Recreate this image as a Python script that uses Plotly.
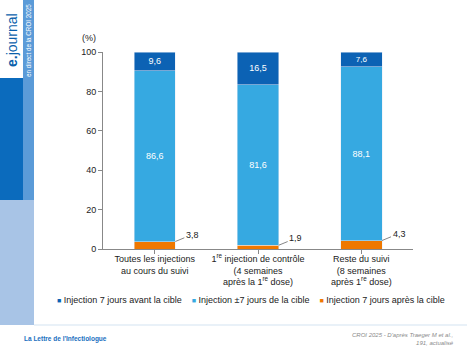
import plotly.graph_objects as go

categories = [
    "Toutes les injections<br>au cours du suivi",
    "1<sup>re</sup> injection de contrôle<br>(4 semaines<br>après la 1<sup>re</sup> dose)",
    "Reste du suivi<br>(8 semaines<br>après 1<sup>re</sup> dose)",
]
series_names = [
    "Injection 7 jours avant la cible",
    "Injection ±7 jours de la cible",
    "Injection 7 jours après la cible",
]
avant = [9.6, 16.5, 7.6]
pendant = [86.6, 81.6, 88.1]
apres = [3.8, 1.9, 4.3]

C_DARK = "#0c62b4"
C_LIGHT = "#36a9e1"
C_ORANGE = "#ef7800"
FONT = "Liberation Sans, Arial, sans-serif"

W, H = 467, 350


def px(x):
    return x / W


def py(y):
    return 1 - y / H


def fmt(v):
    return f"{v:.1f}".replace(".", ",")


BAR_W = 0.4
idx = list(range(len(categories)))

fig = go.Figure()
fig.add_trace(go.Bar(x=idx, y=apres, marker_color=C_ORANGE, width=BAR_W,
                     name=series_names[2], hoverinfo="skip"))
fig.add_trace(go.Bar(x=idx, y=pendant, marker_color=C_LIGHT, width=BAR_W,
                     name=series_names[1],
                     text=[fmt(v) for v in pendant], textposition="inside",
                     insidetextanchor="middle",
                     textfont=dict(color="white", size=9, family=FONT),
                     hoverinfo="skip"))
fig.add_trace(go.Bar(x=idx, y=avant, marker_color=C_DARK, width=BAR_W,
                     name=series_names[0],
                     text=[fmt(v) for v in avant], textposition="inside",
                     insidetextanchor="middle",
                     textfont=dict(color="white", size=9, family=FONT),
                     hoverinfo="skip"))

annotations = []
# outside labels for the orange segments with leader lines
for i, v in zip(idx, apres):
    annotations.append(dict(
        x=i + BAR_W / 2, y=v, xref="x", yref="y",
        text=fmt(v), showarrow=True, arrowhead=0, arrowwidth=0.8,
        arrowcolor="#666666", ax=17, ay=-7, standoff=0,
        font=dict(size=9, color="#222222", family=FONT)))

# (%) label
annotations.append(dict(x=px(98), y=py(38), xref="paper", yref="paper",
                        text="(%)", showarrow=False, xanchor="right", yanchor="middle",
                        font=dict(size=9, color="#222222", family=FONT)))

# legend (drawn as text with coloured square glyphs)
sq = '<span style="color:{c};font-size:7px">■</span> {n}'
legend_text = "    ".join(sq.format(c=c, n=n) for c, n in
                          zip([C_DARK, C_LIGHT, C_ORANGE], series_names))
annotations.append(dict(x=px(251), y=py(300), xref="paper", yref="paper",
                        text=legend_text, showarrow=False, xanchor="center",
                        yanchor="middle",
                        font=dict(size=9, color="#222222", family=FONT)))

# sidebar texts
annotations.append(dict(x=px(12), y=py(40), xref="paper", yref="paper",
                        text="<b>e.</b>journal", showarrow=False, textangle=-90,
                        xanchor="center", yanchor="middle",
                        font=dict(size=14, color="#0a5fab", family=FONT)))
annotations.append(dict(x=px(29), y=py(41), xref="paper", yref="paper",
                        text="en direct de la CROI 2025", showarrow=False,
                        textangle=-90, xanchor="center", yanchor="middle",
                        font=dict(size=6.3, color="white", family=FONT)))
# footer
annotations.append(dict(x=px(22), y=py(339), xref="paper", yref="paper",
                        text="<b>La Lettre de l'Infectiologue</b>", showarrow=False,
                        xanchor="left", yanchor="middle",
                        font=dict(size=6.5, color="#1a6fc0", family=FONT)))
annotations.append(dict(x=px(456), y=py(339), xref="paper", yref="paper",
                        text="<i>CROI 2025 - D'après Traeger M et al.,<br>191, actualisé</i>",
                        showarrow=False, xanchor="right", yanchor="middle", align="right",
                        font=dict(size=6, color="#8a8a8a", family=FONT)))

shapes = [
    dict(type="rect", xref="paper", yref="paper", x0=px(23), x1=px(34),
         y0=py(0), y1=py(200), fillcolor="#5b9bd8", line_width=0, layer="below"),
    dict(type="rect", xref="paper", yref="paper", x0=px(0), x1=px(23),
         y0=py(78), y1=py(200), fillcolor="#0b6bbd", line_width=0, layer="below"),
    dict(type="rect", xref="paper", yref="paper", x0=px(0), x1=px(34),
         y0=py(200), y1=py(325), fillcolor="#a8c4e6", line_width=0, layer="below"),
    dict(type="line", xref="paper", yref="paper", x0=px(34), x1=px(467),
         y0=py(325), y1=py(325), line=dict(color="#d3e4f2", width=1.2)),
]

fig.update_layout(
    width=W, height=H,
    margin=dict(l=0, r=0, t=0, b=0, autoexpand=False),
    barmode="stack", bargap=0.6,
    plot_bgcolor="white", paper_bgcolor="white",
    font=dict(family=FONT, size=9, color="#222222"),
    showlegend=False,
    xaxis=dict(domain=[px(103), px(413)], tickmode="array", tickvals=idx,
               ticktext=categories, range=[-0.5, 2.5], showline=True,
               linecolor="#888888", linewidth=1, ticks="outside",
               tickson="boundaries", ticklen=4, tickcolor="#888888",
               ticklabelstandoff=-3,
               showgrid=False, zeroline=False,
               tickfont=dict(size=9, family=FONT, color="#222222")),
    yaxis=dict(domain=[py(249), py(52)], range=[0, 100], dtick=20,
               showline=True, linecolor="#888888", linewidth=1,
               ticks="outside", ticklen=4, tickcolor="#888888",
               showgrid=False, zeroline=False,
               tickfont=dict(size=9, family=FONT, color="#222222")),
    annotations=annotations, shapes=shapes,
)

fig.write_html("out.html")
